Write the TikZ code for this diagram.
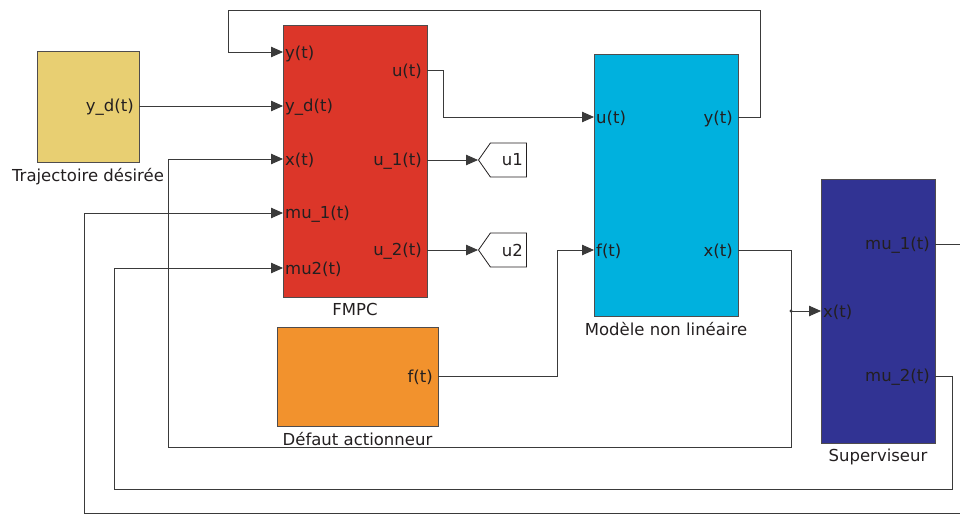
\documentclass[tikz,border=0pt]{standalone}
\usepackage{fontspec}
\setmainfont{DejaVu Sans}
\usepackage{tikz}
\usetikzlibrary{positioning,shapes.symbols,arrows.meta,calc}

\definecolor{trajcol}{HTML}{E8CF72}
\definecolor{fmpccol}{HTML}{DC3629}
\definecolor{modcol}{HTML}{00B1DE}
\definecolor{defcol}{HTML}{F2922D}
\definecolor{supcol}{HTML}{313393}
\definecolor{inkcol}{HTML}{231F20}
\definecolor{wirecol}{HTML}{3A3A3A}

\tikzset{
  block/.style={draw=inkcol!80, line width=0.9pt, inner sep=0pt, outer sep=0pt},
  inport/.style={anchor=west, inner sep=2pt, yshift=-1.5pt, text=inkcol},
  outport/.style={anchor=east, inner sep=5pt, yshift=-1.5pt, text=inkcol},
  blocklabel/.style={below=6pt, inner sep=0pt, text=inkcol},
  wire/.style={draw=wirecol, line width=0.8pt},
  sig/.style={wire, -{Triangle[length=12pt,width=10.5pt]}},
  gototag/.style={signal, signal to=west, signal pointer angle=110, draw=inkcol,
    fill=white, line width=0.8pt, minimum width=48pt, minimum height=34pt,
    inner sep=0pt, text=inkcol}
}

\begin{document}
\begin{tikzpicture}[x=1pt, y=-1pt, font=\fontsize{16.5}{19}\selectfont]
      \useasboundingbox (0,0) rectangle (960,514);
      % blocs
      \node[block, fill=trajcol, minimum width=102pt, minimum height=111pt] (traj) at (88,106.5) {};
      \node[block, fill=fmpccol, minimum width=144pt, minimum height=272pt] (fmpc) at (355,161) {};
      \node[block, fill=modcol, minimum width=144pt, minimum height=262pt] (model) at (666,185) {};
      \node[block, fill=defcol, minimum width=161pt, minimum height=99pt] (defaut) at (357.5,376.5) {};
      \node[block, fill=supcol, minimum width=114pt, minimum height=264pt] (sup) at (878,311) {};
      \node[blocklabel] at (traj.south) {Trajectoire désirée};
      \node[blocklabel] at (fmpc.south) {FMPC};
      \node[blocklabel] at (model.south) {Modèle non linéaire};
      \node[blocklabel] at (defaut.south) {Défaut actionneur};
      \node[blocklabel] at (sup.south) {Superviseur};
      % ports
      \node[outport] (traj-yd) at (traj.east |- 0,106) {y\_d(t)};
      \node[inport] (fmpc-y) at (fmpc.west |- 0,52) {y(t)};
      \node[inport] (fmpc-yd) at (fmpc.west |- 0,106) {y\_d(t)};
      \node[inport] (fmpc-x) at (fmpc.west |- 0,159) {x(t)};
      \node[inport] (fmpc-mu1) at (fmpc.west |- 0,213) {mu\_1(t)};
      \node[inport] (fmpc-mu2) at (fmpc.west |- 0,268) {mu2(t)};
      \node[outport] (fmpc-u) at (fmpc.east |- 0,70) {u(t)};
      \node[outport] (fmpc-u1) at (fmpc.east |- 0,160) {u\_1(t)};
      \node[outport] (fmpc-u2) at (fmpc.east |- 0,250) {u\_2(t)};
      \node[inport] (model-u) at (model.west |- 0,117) {u(t)};
      \node[inport] (model-f) at (model.west |- 0,250) {f(t)};
      \node[outport] (model-y) at (model.east |- 0,117) {y(t)};
      \node[outport] (model-x) at (model.east |- 0,250) {x(t)};
      \node[outport] (defaut-f) at (defaut.east |- 0,376) {f(t)};
      \node[inport] (sup-x) at (sup.west |- 0,311) {x(t)};
      \node[outport] (sup-mu1) at (sup.east |- 0,244) {mu\_1(t)};
      \node[outport] (sup-mu2) at (sup.east |- 0,376) {mu\_2(t)};
      % etiquettes goto
      \node[gototag, anchor=west] (tag1) at (478,160) {\hspace{8pt}u1};
      \node[gototag, anchor=west] (tag2) at (478,250) {\hspace{8pt}u2};
      \coordinate (branch) at (791,311);
      \fill[wirecol] (branch) circle (1.6pt);
      % liaisons
      \draw[sig] (traj.east |- 0,106) -- (fmpc.west |- 0,106);
      \draw[sig] (fmpc.east |- 0,70) -| (443,117) -- (model.west |- 0,117);
      \draw[sig] (fmpc.east |- 0,160) -- (tag1.west);
      \draw[sig] (fmpc.east |- 0,250) -- (tag2.west);
      \draw[sig] (model.east |- 0,117) -| (760,10) -| (228,52) -- (fmpc.west |- 0,52);
      \draw[sig] (defaut.east |- 0,376) -| (557,250) -- (model.west |- 0,250);
      \draw[wire] (model.east |- 0,250) -| (branch);
      \draw[sig] (branch) -- (sup.west |- branch);
      \draw[sig] (branch) |- (168,447) |- (fmpc.west |- 0,159);
      \draw[sig] (sup.east |- 0,244) -| (968,513) -| (84,213) -- (fmpc.west |- 0,213);
      \draw[sig] (sup.east |- 0,376) -| (952,489) -| (114,268) -- (fmpc.west |- 0,268);
    \end{tikzpicture}
\end{document}
